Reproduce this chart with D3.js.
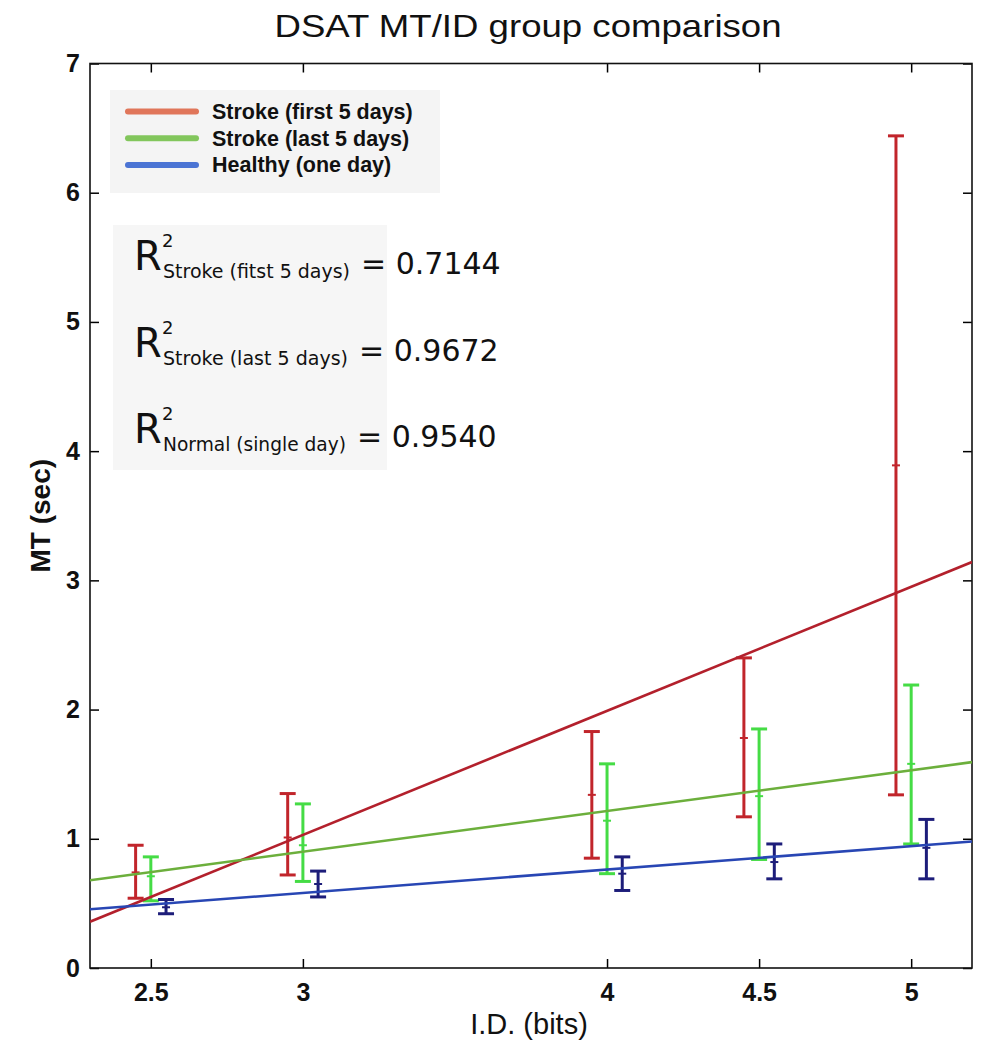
<!DOCTYPE html>
<meta charset="utf-8">
<style>
body { margin: 0; background: #fff; }
svg text { font-family: "Liberation Sans", Arial, sans-serif; fill: #111; }
.tick line { stroke: #000; stroke-width: 1.5; }
.tick text { font-size: 25px; font-weight: bold; fill: #111; }
.rsq text { font-family: "DejaVu Sans", Verdana, sans-serif; }
</style>
<body>
<div id="chart"></div>
<script src="https://d3js.org/d3.v7.min.js"></script>
<script>

// I.D. levels (bits) on the x axis
var idLevels = [2.5, 3, 4, 4.5, 5];
var xTicks = [2.5, 3, 4, 4.5, 5];
var yTicks = [0, 1, 2, 3, 4, 5, 6, 7];

var groupNames = ["Stroke (first 5 days)", "Stroke (last 5 days)", "Healthy (one day)"];

// mean MT (sec) and error bar ends
var strokeFirstMean = [0.74, 1.01, 1.34, 1.78, 3.89];
var strokeFirstLow  = [0.54, 0.72, 0.85, 1.17, 1.34];
var strokeFirstHigh = [0.95, 1.35, 1.83, 2.40, 6.44];

var strokeLastMean = [0.71, 0.95, 1.14, 1.33, 1.58];
var strokeLastLow  = [0.52, 0.67, 0.73, 0.84, 0.96];
var strokeLastHigh = [0.86, 1.27, 1.58, 1.85, 2.19];

var healthyMean = [0.47, 0.65, 0.73, 0.82, 0.93];
var healthyLow  = [0.42, 0.55, 0.60, 0.69, 0.69];
var healthyHigh = [0.53, 0.75, 0.86, 0.96, 1.15];

// linear fits MT = a*ID + b for each group
var fitSlope     = [0.96, 0.315, 0.181];
var fitIntercept = [-1.85, -0.045, 0.038];

// R^2 annotations
var rsqLabels = ["Stroke (fitst 5 days)", "Stroke (last 5 days)", "Normal (single day)"];
var rsqValues = ["0.7144", "0.9672", "0.9540"];

//////////////////////////// styling ////////////////////////////
var barColors    = ["#c1252b", "#45dc45", "#1d1d7a"];
var fitColors    = ["#b3202c", "#6caf3c", "#2846b4"];
var legendColors = ["#e0765a", "#82c65c", "#4b74d4"];
var dodge = [-0.05, 0, 0.05];   // sideways shift of each group's bars

var chartWidth = 990, chartHeight = 1053;
var margin = {top: 63.5, right: 18, bottom: 85, left: 90},
    width  = chartWidth - margin.left - margin.right,
    height = chartHeight - margin.top - margin.bottom;

var svg = d3.select("#chart").append("svg")
    .attr("width", chartWidth)
    .attr("height", chartHeight)
  .append("g")
    .attr("transform", "translate(" + margin.left + "," + margin.top + ")");

var x = d3.scaleLinear().domain([2.3, 5.2]).range([0, width]);
var y = d3.scaleLinear().domain([0, 7]).range([height, 0]);

var groups = [
    {mean: strokeFirstMean, low: strokeFirstLow, high: strokeFirstHigh},
    {mean: strokeLastMean,  low: strokeLastLow,  high: strokeLastHigh},
    {mean: healthyMean,     low: healthyLow,     high: healthyHigh}
].map(function(g, gi){
    return idLevels.map(function(id, i){
        return {gi: gi, id: id, mean: g.mean[i], low: g.low[i], high: g.high[i]};
    });
});

svg.append("clipPath").attr("id", "plotclip")
  .append("rect").attr("width", width).attr("height", height);

//////////////////////////// axes ////////////////////////////
var tick = 9;
svg.append("g")
    .attr("transform", "translate(0," + height + ")")
    .call(d3.axisBottom(x).tickValues(xTicks).tickSizeInner(-tick).tickSizeOuter(0)
        .tickPadding(15).tickFormat(d3.format("")));
svg.append("g")
    .call(d3.axisTop(x).tickValues(xTicks).tickSizeInner(-tick).tickSizeOuter(0).tickFormat(""));
svg.append("g")
    .call(d3.axisLeft(y).tickValues(yTicks).tickSizeInner(-tick).tickSizeOuter(0)
        .tickPadding(10).tickFormat(d3.format("d")));
svg.append("g")
    .attr("transform", "translate(" + width + ",0)")
    .call(d3.axisRight(y).tickValues(yTicks).tickSizeInner(-tick).tickSizeOuter(0).tickFormat(""));
svg.selectAll(".domain").remove();

svg.append("rect")
    .attr("width", width).attr("height", height)
    .attr("fill", "none").attr("stroke", "#111").attr("stroke-width", 1.6);

//////////////////////////// annotation boxes ////////////////////////////
var legend = svg.append("g").attr("transform", "translate(20,26.5)");
legend.append("rect")
    .attr("width", 330).attr("height", 103)
    .attr("fill", "#f4f4f4");
groupNames.forEach(function(name, i){
    legend.append("line")
        .attr("x1", 18).attr("x2", 86)
        .attr("y1", 21.5 + i * 26.7).attr("y2", 21.5 + i * 26.7)
        .attr("stroke", legendColors[i]).attr("stroke-width", 6)
        .attr("stroke-linecap", "round");
    legend.append("text")
        .attr("x", 102).attr("y", 29 + i * 26.7)
        .attr("font-size", 21.5).attr("font-weight", "bold")
        .attr("fill", "#222")
        .text(name);
});

var rsq = svg.append("g").attr("class", "rsq");
rsq.append("rect")
    .attr("x", 23).attr("y", 161.5)
    .attr("width", 274).attr("height", 245)
    .attr("fill", "#f6f6f6");
rsqValues.forEach(function(v, i){
    var base = 210.5 + i * 86.5;
    // R, superscript 2 and subscript label share one text element
    var t = rsq.append("text")
        .attr("x", 44).attr("y", base - 4)
        .attr("fill", "#333");
    t.append("tspan")
        .attr("font-size", 40)
        .text("R");
    t.append("tspan")
        .attr("x", 72).attr("y", base - 27)
        .attr("font-size", 18)
        .text("2");
    t.append("tspan")
        .attr("x", 73).attr("y", base + 4)
        .attr("font-size", 20)
        .attr("textLength", [187, 185, 183][i]).attr("lengthAdjust", "spacingAndGlyphs")
        .text(rsqLabels[i]);
    rsq.append("text")
        .attr("x", 271 - i * 2).attr("y", base)
        .attr("font-size", 30).attr("fill", "#111")
        .text("= " + v);
});

//////////////////////////// error bars ////////////////////////////
var cap = 8;
groups.forEach(function(rows, gi){
    var g = svg.append("g").attr("class", "bars")
        .attr("stroke", barColors[gi]).attr("stroke-width", 3);
    var bx = function(d){ return x(d.id + dodge[gi]); };
    g.selectAll(".stem").data(rows).enter().append("line")
        .attr("x1", bx).attr("x2", bx)
        .attr("y1", function(d){ return y(d.low); })
        .attr("y2", function(d){ return y(d.high); });
    g.selectAll(".capLow").data(rows).enter().append("line")
        .attr("x1", function(d){ return bx(d) - cap; })
        .attr("x2", function(d){ return bx(d) + cap; })
        .attr("y1", function(d){ return y(d.low); })
        .attr("y2", function(d){ return y(d.low); });
    g.selectAll(".capHigh").data(rows).enter().append("line")
        .attr("x1", function(d){ return bx(d) - cap; })
        .attr("x2", function(d){ return bx(d) + cap; })
        .attr("y1", function(d){ return y(d.high); })
        .attr("y2", function(d){ return y(d.high); });
    g.selectAll(".mean").data(rows).enter().append("line")
        .attr("stroke-width", 2)
        .attr("x1", function(d){ return bx(d) - 4; })
        .attr("x2", function(d){ return bx(d) + 4; })
        .attr("y1", function(d){ return y(d.mean); })
        .attr("y2", function(d){ return y(d.mean); });
});

//////////////////////////// fit lines ////////////////////////////
var line = d3.line()
    .x(function(d){ return x(d[0]); })
    .y(function(d){ return y(d[1]); });

fitSlope.forEach(function(a, i){
    var pts = x.domain().map(function(id){ return [id, a * id + fitIntercept[i]]; });
    svg.append("path")
        .datum(pts)
        .attr("clip-path", "url(#plotclip)")
        .attr("fill", "none")
        .attr("stroke", fitColors[i])
        .attr("stroke-width", 2.6)
        .attr("d", line);
});

//////////////////////////// titles ////////////////////////////
svg.append("text")
    .attr("x", width / 2 - 3).attr("y", 37 - margin.top)
    .attr("text-anchor", "middle")
    .attr("font-size", 32)
    .attr("textLength", 507).attr("lengthAdjust", "spacingAndGlyphs")
    .text("DSAT MT/ID group comparison");

svg.append("text")
    .attr("x", width / 2 - 2).attr("y", height + 66)
    .attr("text-anchor", "middle")
    .attr("font-size", 29)
    .text("I.D. (bits)");

svg.append("text")
    .attr("transform", "translate(" + (50 - margin.left) + "," + (height / 2) + ") rotate(-90)")
    .attr("text-anchor", "middle")
    .attr("font-size", 28).attr("font-weight", "bold")
    .text("MT (sec)");

</script>
